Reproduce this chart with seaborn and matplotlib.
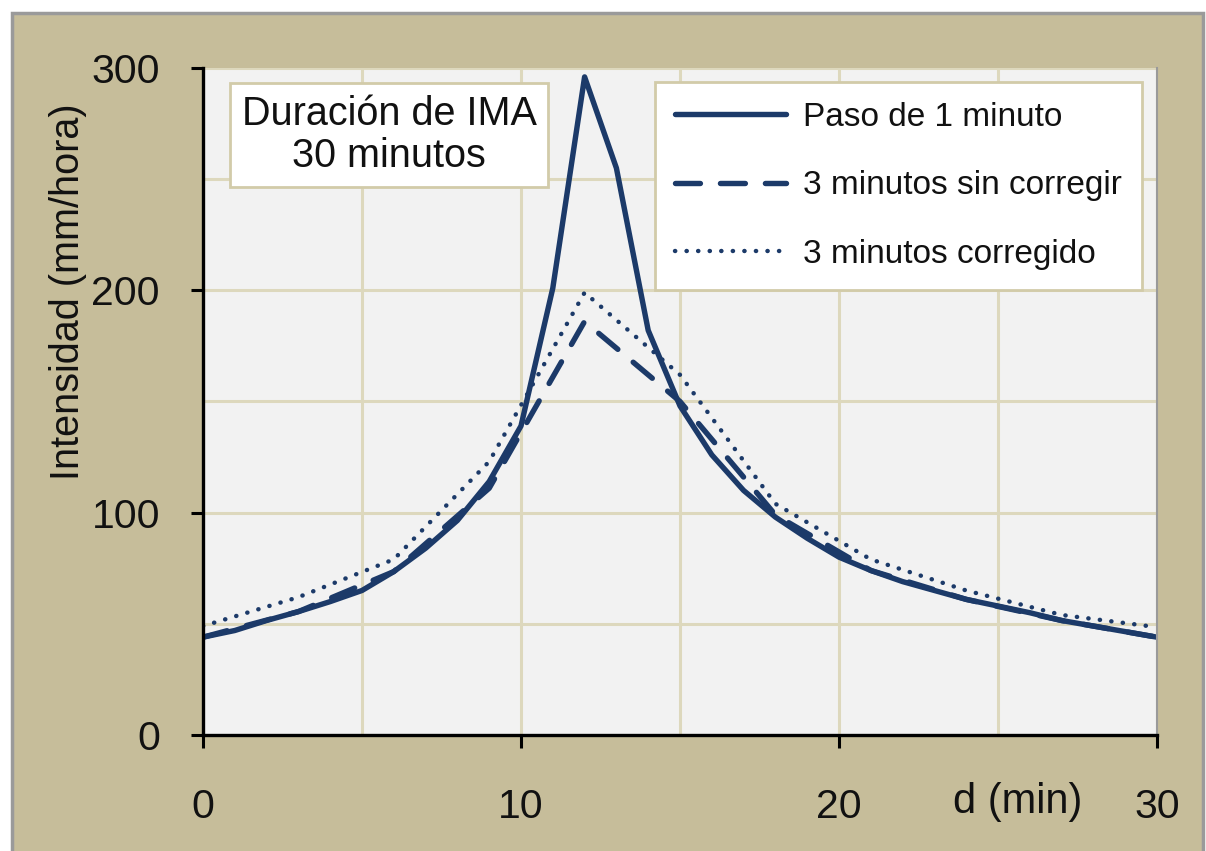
import numpy as np
import pandas as pd
import matplotlib
matplotlib.use("Agg")
import matplotlib.pyplot as plt
import seaborn as sns
from matplotlib.patches import Rectangle
from matplotlib.ticker import MultipleLocator

# ---- data ----
d_1min = list(range(0, 31))
i_1min = [44, 47, 51.5, 55.5, 60, 65, 73.5, 84, 96.5, 114, 139, 201, 296, 255, 182,
          148, 126, 110, 98, 88.5, 80, 74, 69, 65, 61, 58, 55, 51.5, 49, 46.5, 44]
d_3min = [0, 3, 6, 9, 12, 15, 18, 21, 24, 27, 30]
i_3min_sin = [44, 55.5, 73.5, 111, 186, 150, 99, 74, 61, 51.5, 44]
i_3min_corr = [49, 62, 79, 123, 199, 162, 104, 79, 65, 54, 48.5]

labels = ["Paso de 1 minuto", "3 minutos sin corregir", "3 minutos corregido"]
x_ticks = [0, 10, 20, 30]
y_ticks = [0, 100, 200, 300]
box_text = "Duración de IMA\n30 minutos"
ylabel = "Intensidad (mm/hora)"
xlabel = "d (min)"

sns.set_theme(style="white")
plt.rcParams["font.family"] = ["Liberation Sans", "DejaVu Sans"]

LINE = "#1c3a69"
TAN = "#c6bd9a"
GRID = "#ddd8bd"
EDGE = "#d2cba9"

fig = plt.figure(figsize=(12.06, 8.51), dpi=100, facecolor="white")
# outer tan panel with grey border
fig.patches.append(Rectangle((12 / 1206, -0.02), (1203 - 12) / 1206, (851 - 13) / 851 + 0.02,
                             transform=fig.transFigure, facecolor=TAN, edgecolor="#9a9a9a",
                             linewidth=2.5, zorder=-10))

ax = fig.add_axes([203 / 1206, 1 - 735 / 851, (1157 - 203) / 1206, (735 - 68) / 851])
ax.set_facecolor("#f2f2f2")

df1 = pd.DataFrame({"d": d_1min, "i": i_1min})
df2 = pd.DataFrame({"d": d_3min, "i": i_3min_sin})
df3 = pd.DataFrame({"d": d_3min, "i": i_3min_corr})

sns.lineplot(data=df1, x="d", y="i", ax=ax, color=LINE, linewidth=3.9, label=labels[0],
             solid_capstyle="round", solid_joinstyle="round")
sns.lineplot(data=df2, x="d", y="i", ax=ax, color=LINE, linewidth=3.9, label=labels[1],
             linestyle=(0, (4.6, 3.7)), dash_capstyle="round")
sns.lineplot(data=df3, x="d", y="i", ax=ax, color=LINE, linewidth=3.2, label=labels[2],
             linestyle=(0, (0.05, 2.55)), dash_capstyle="round")

ax.set_xlim(0, 30)
ax.set_ylim(0, 300)
ax.set_xticks(x_ticks)
ax.set_yticks(y_ticks)
ax.xaxis.set_minor_locator(MultipleLocator(5))
ax.yaxis.set_minor_locator(MultipleLocator(50))
ax.grid(True, which="both", color=GRID, linewidth=2.2)
ax.set_axisbelow(True)

ax.tick_params(axis="both", which="major", labelsize=29.5, length=9, width=2.2,
               color="black", direction="out", labelcolor="#111111")
ax.tick_params(axis="x", which="major", pad=29)
ax.tick_params(axis="y", which="major", pad=22)
ax.tick_params(which="minor", length=0)
ax.tick_params(left=True, bottom=True)

for s in ["left", "bottom"]:
    ax.spines[s].set_color("black")
    ax.spines[s].set_linewidth(2.4)
ax.spines["top"].set_visible(False)
ax.spines["right"].set_color("#9a9a9a")
ax.spines["right"].set_linewidth(1.5)

ax.set_ylabel(ylabel, fontsize=28.5, color="#111111")
ax.yaxis.set_label_coords(-0.122, 0.664)
ax.set_xlabel(xlabel, fontsize=30, color="#111111", va="center")
ax.xaxis.set_label_coords(0.854, -0.100)

ax.text(0.195, 0.8996, box_text, transform=ax.transAxes, ha="center", va="center",
        fontsize=28.5, color="#111111", linespacing=1.12,
        bbox=dict(boxstyle="square,pad=0.3", facecolor="white", edgecolor=EDGE, linewidth=2))

leg = ax.legend(loc="upper right", bbox_to_anchor=(0.984, 0.979), borderaxespad=0,
                fontsize=24, frameon=True, fancybox=False, framealpha=1,
                handlelength=3.35, handletextpad=0.5, labelspacing=1.12,
                borderpad=0.6)
leg.get_frame().set_edgecolor(EDGE)
leg.get_frame().set_linewidth(2)
for t in leg.get_texts():
    t.set_color("#111111")

fig.savefig("out.png", dpi=100, facecolor=fig.get_facecolor())
